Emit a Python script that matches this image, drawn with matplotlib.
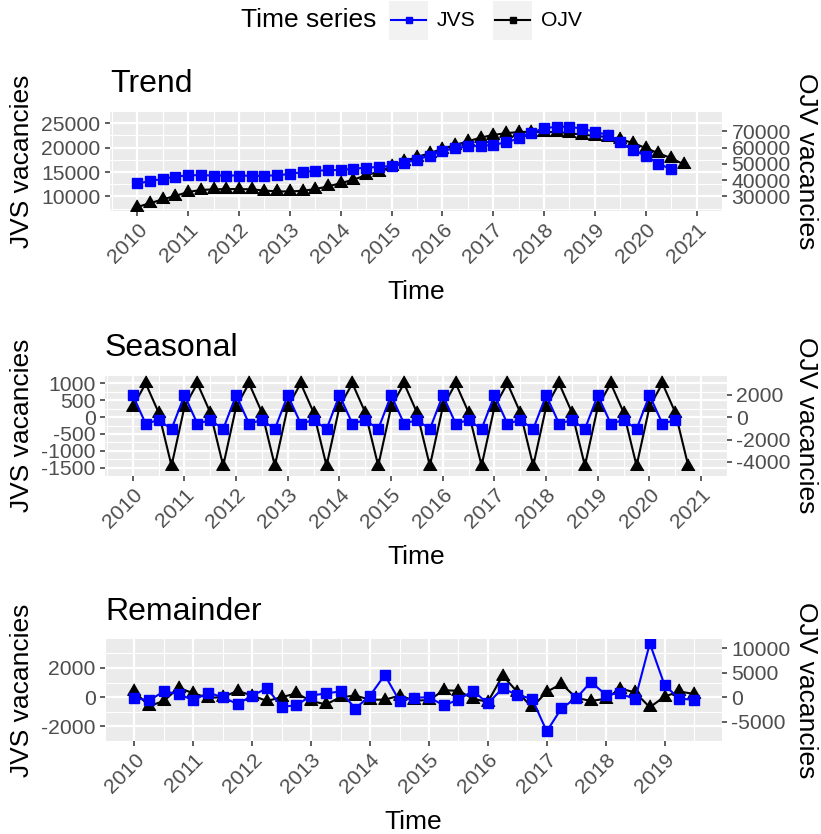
import numpy as np
import matplotlib
matplotlib.use('Agg')
import matplotlib.pyplot as plt
from matplotlib.patches import Rectangle
from matplotlib.lines import Line2D

plt.rcParams['font.family'] = ['Liberation Sans', 'DejaVu Sans']
plt.rcParams['axes.unicode_minus'] = False

W, H = 821, 834

# ---- data (quarterly, first point 2010 Q1) ----
jvs_trend = [12650, 13130, 13610, 14030, 14340, 14340, 14280, 14280, 14280, 14220,
             14220, 14340, 14580, 15000, 15240, 15360, 15420, 15660, 15900, 16020,
             16270, 16870, 17530, 18370, 19270, 19880, 20240, 20360, 20540, 21080,
             21870, 23070, 23970, 24280, 24280, 23860, 23250, 22590, 21080, 19580,
             18250, 16740, 15540]
ojv_trend = [23500, 25840, 28190, 30360, 32710, 33970, 34340, 34520, 34520, 34340,
             33620, 33070, 33070, 33430, 34520, 36140, 38130, 40300, 43010, 45180,
             48430, 51680, 54220, 56560, 59270, 61620, 63790, 66140, 67770, 68850,
             69570, 69750, 69570, 69570, 68850, 67950, 67230, 66500, 65060, 62890,
             59640, 56560, 53490, 49700]

jvs_seas = [648, -195, -89, -355, 648, -195, -89, -355, 648, -195, -89, -355,
            648, -195, -89, -355, 648, -195, -89, -355, 648, -195, -89, -355,
            648, -195, -89, -355, 648, -195, -89, -355, 648, -195, -89, -355,
            648, -195, -89, -355, 648, -195, -89]
ojv_seas = [906, 3010, 400, -4342, 906, 3010, 400, -4342, 906, 3010, 400, -4342,
            906, 3010, 400, -4342, 906, 3010, 400, -4342, 906, 3010, 400, -4342,
            906, 3010, 400, -4342, 906, 3010, 400, -4342, 906, 3010, 400, -4342,
            906, 3010, 400, -4342, 906, 3010, 400, -4342]

jvs_rem = [-65, -216, 390, 216, -216, 303, 0, -476, 108, 606,
           -650, -563, 108, 260, 390, -779, 108, 1516, -260, -43,
           0, -563, -173, 433, -433, 606, 152, -108, -2338, -758,
           -65, 1039, 173, 260, -152, 3680, 823, -108, -173]
ojv_rem = [1170, -1820, -780, 1950, 780, -130, 0, 1300, 325, -780,
           0, 780, -780, -1490, 0, 325, -520, -520, 325, -650,
           -650, 1430, 1300, -325, -975, 4420, 1100, -2080, 1100, 2730,
           -130, -780, -325, 1750, 975, -2080, 130, 1170, 650]

years_long = list(range(2010, 2022))
years_short = list(range(2010, 2020))

left_trend = [10000, 15000, 20000, 25000]
right_trend = [30000, 40000, 50000, 60000, 70000]
left_seas = [-1500, -1000, -500, 0, 500, 1000]
right_seas = [-4000, -2000, 0, 2000]
left_rem = [-2000, 0, 2000]
right_rem = [-5000, 0, 5000, 10000]

SCALE = 3  # OJV drawn as OJV / 3 on the JVS axis
BLUE = '#0000FF'
TXT = '#4D4D4D'
TRI = [(0, 1), (-0.866, -0.5), (0.866, -0.5)]


def qtime(n):
    return 2010 + np.arange(n) / 4


fig = plt.figure(figsize=(W / 100, H / 100), dpi=100)


def panel(px, title, jvs, ojv, xt, lt, rt):
    x0, y0, x1, y1 = px
    ax = fig.add_axes([x0 / W, 1 - y1 / H, (x1 - x0) / W, (y1 - y0) / H])
    ax.set_facecolor('#EBEBEB')
    for s in ax.spines.values():
        s.set_visible(False)
    ax.plot(qtime(len(ojv)), np.array(ojv) / SCALE, color='black', lw=1.5,
            marker=TRI, ms=11, zorder=3)
    ax.plot(qtime(len(jvs)), jvs, color=BLUE, lw=1.5, marker='s', ms=6.8,
            zorder=4)
    ax.margins(x=0.05, y=0.05)

    ax.set_xticks(xt)
    ax.set_xticklabels([str(y) for y in xt], rotation=45, ha='right',
                       va='top', rotation_mode='anchor')
    ax.set_xticks([y + 0.5 for y in [xt[0] - 1] + xt], minor=True)
    ax.set_yticks(lt)
    step = lt[1] - lt[0]
    ax.set_yticks([v - step / 2 for v in lt] + [lt[-1] + step / 2], minor=True)
    ax.grid(which='major', color='white', lw=1.6)
    ax.grid(which='minor', color='white', lw=0.8)
    ax.set_axisbelow(True)
    ax.tick_params(which='major', length=3.8, width=1.1, color='#333333',
                   labelsize=15.2, labelcolor=TXT, pad=3)
    ax.tick_params(which='minor', length=0)
    ax.set_xlabel('Time', fontsize=19, labelpad=9.5)
    ax.set_title(title, loc='left', fontsize=23, pad=13.5)

    ymid = 1 - (y0 + y1) / 2 / H
    ax.set_ylabel('JVS vacancies', fontsize=19, va='center', ha='center')
    ax.yaxis.set_label_coords(22 / W, ymid, transform=fig.transFigure)

    sec = ax.secondary_yaxis('right', functions=(lambda v: v * SCALE,
                                                 lambda v: v / SCALE))
    sec.spines['right'].set_visible(False)
    sec.set_yticks(rt)
    sec.tick_params(length=3.8, width=1.1, color='#333333', labelsize=15.2,
                    labelcolor=TXT, pad=3)
    sec.set_ylabel('OJV vacancies', fontsize=19, rotation=-90, va='center',
                   ha='center')
    sec.yaxis.set_label_coords(806 / W, ymid, transform=fig.transFigure)
    return ax


panel((110, 111, 722, 211), 'Trend', jvs_trend, ojv_trend,
      years_long, left_trend, right_trend)
panel((105, 375, 727, 476), 'Seasonal', jvs_seas, ojv_seas,
      years_long, left_seas, right_seas)
panel((105, 639, 722, 741), 'Remainder', jvs_rem, ojv_rem,
      years_short, left_rem, right_rem)

# ---- legend along the top ----
lax = fig.add_axes([0, 1 - 42 / H, 1, 42 / H])
lax.set_xlim(0, W)
lax.set_ylim(42, 0)
lax.axis('off')
lax.text(241, 20, 'Time series', fontsize=19, va='center', ha='left')
for lx, col, lab in [(389, BLUE, 'JVS'), (493, 'black', 'OJV')]:
    lax.add_patch(Rectangle((lx, 1), 39, 39, facecolor='#F2F2F2',
                            edgecolor='none'))
    lax.add_line(Line2D([lx + 2, lx + 37], [20, 20], color=col, lw=1.5))
    lax.add_line(Line2D([lx + 19.5], [20], color=col, marker='s', ms=4.5))
    lax.text(lx + 48, 20, lab, fontsize=15.2, va='center', ha='left')

fig.savefig('out.png', dpi=100)
